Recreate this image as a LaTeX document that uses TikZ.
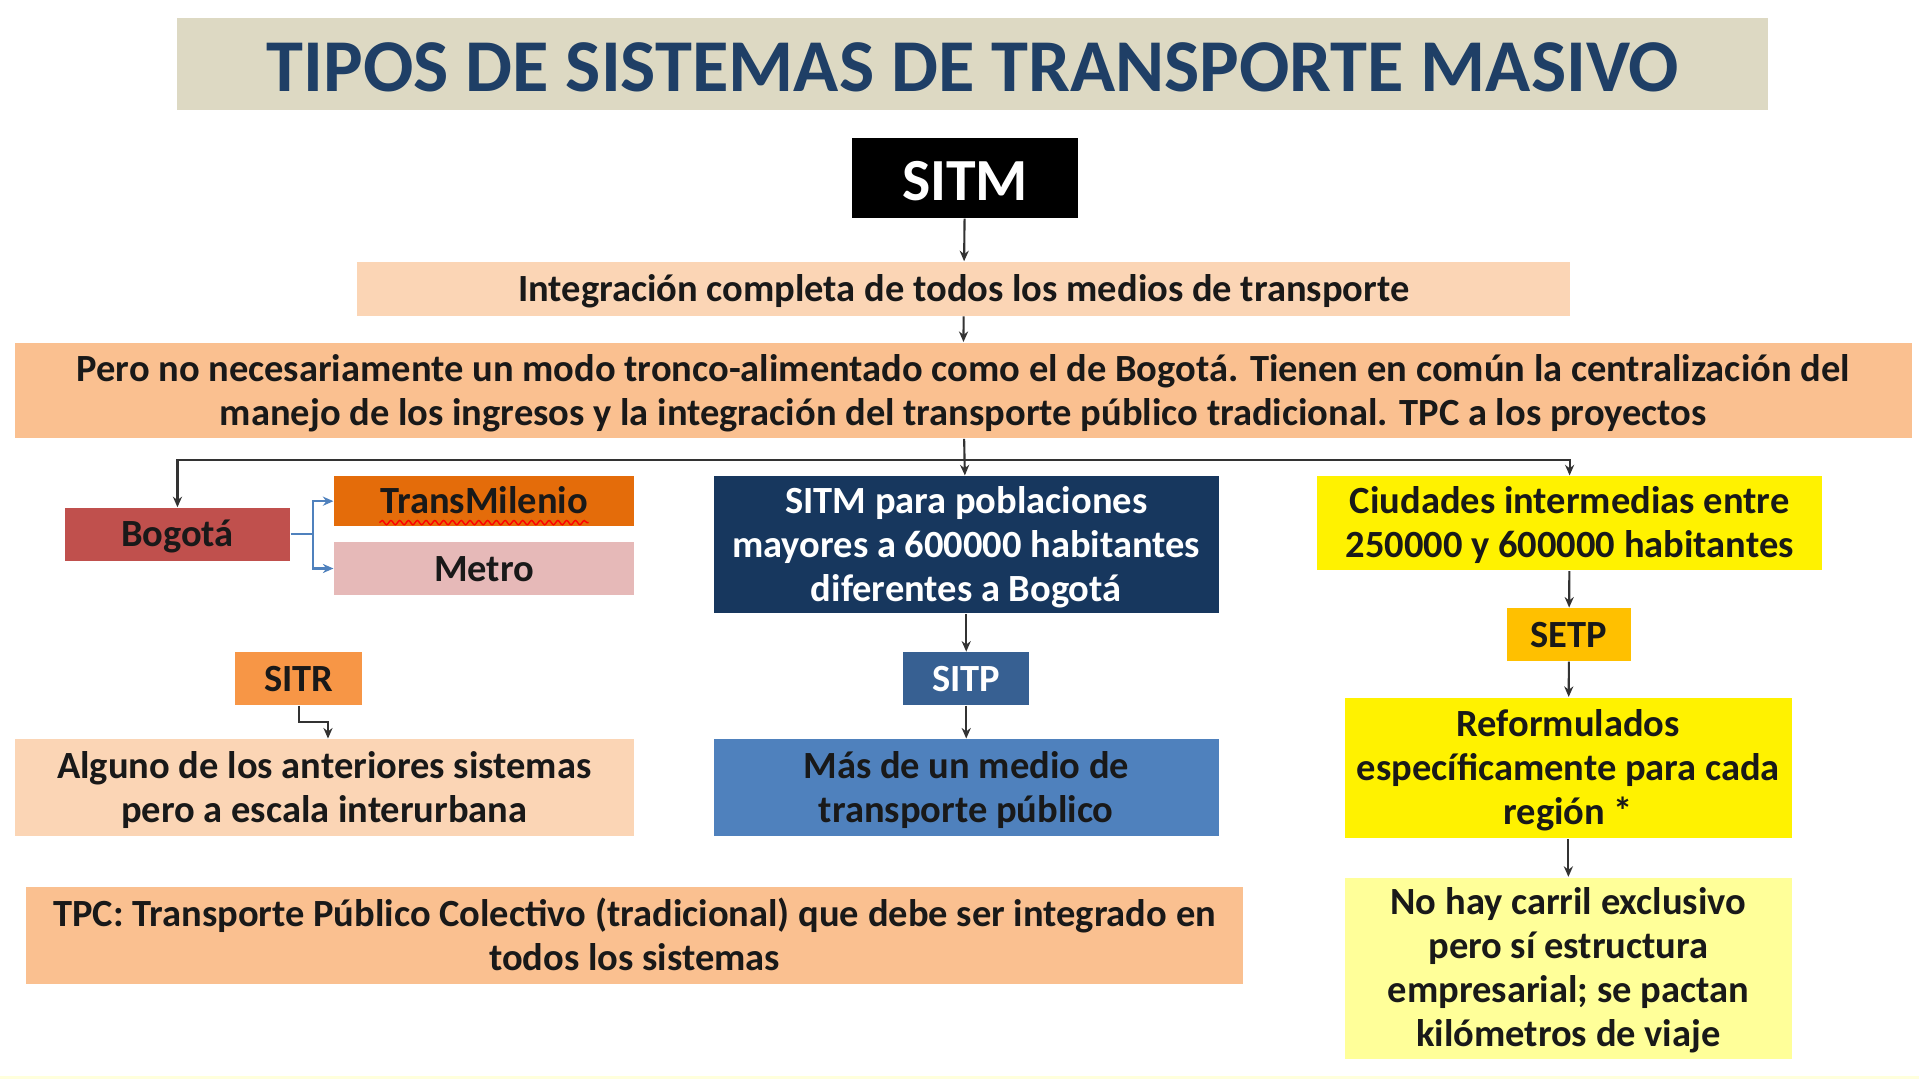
\documentclass[tikz,border=0pt]{standalone}
\usepackage{fontspec}
\setmainfont{Carlito}
\usepackage{tikz}
\usetikzlibrary{arrows.meta,decorations.pathmorphing}
\def\px{0.012239cm}
\definecolor{titlebg}{HTML}{DDD9C3}
\definecolor{titleblue}{HTML}{1F3F66}
\definecolor{peachlt}{HTML}{FBD5B5}
\definecolor{peach}{HTML}{FAC090}
\definecolor{bogred}{HTML}{C0504D}
\definecolor{tmorange}{HTML}{E46C0A}
\definecolor{metropink}{HTML}{E6B9B8}
\definecolor{navy}{HTML}{17375E}
\definecolor{sitrorange}{HTML}{F79646}
\definecolor{sitpblue}{HTML}{376092}
\definecolor{masblue}{HTML}{4F81BD}
\definecolor{setpgold}{HTML}{FFC000}
\definecolor{yellowlt}{HTML}{FFFF99}
\definecolor{stripyellow}{HTML}{FFFFDC}
\def\boxnode{\node[box]}
\def\drawlink{\draw[link]}
\begin{document}
\begin{tikzpicture}[x=\px,y=-\px,
  box/.style={inner sep=0pt,align=center,text=black!90,
    font=\fontsize{10.95}{12.5}\selectfont\bfseries,nlines=1},
  nlines/.style={text height=10.2pt+(#1-1)*12.5pt,text depth=3pt},
  wh/.style 2 args={minimum width=#1*\px,minimum height=#2*\px},
  link/.style={draw=black!80,line width=0.6pt,-{Stealth[length=3pt,width=2.6pt]}},
  bluelink/.style={draw=masblue,line width=0.7pt,-{Stealth[length=3pt,width=2.6pt]}}]
\useasboundingbox[fill=white] (0,0) rectangle (1568,882);
\fill[stripyellow] (0,879) rectangle (1568,882);
\boxnode[fill=titlebg,wh={1300}{75},text=titleblue,font=\fontsize{21.2}{25}\selectfont\bfseries,text height=15.4pt,text depth=0pt] (title) at (795,52.5) {TIPOS DE SISTEMAS DE TRANSPORTE MASIVO};
\boxnode[fill=black,wh={185}{65},text=white,font=\fontsize{17}{20}\selectfont\bfseries,text height=13pt,text depth=0pt] (sitm) at (788.5,145.5) {SITM};
\boxnode[fill=peachlt,wh={991}{44}] (integ) at (787.5,236) {Integración completa de todos los medios de transporte};
\boxnode[fill=peach,wh={1550}{78},nlines=2] (pero) at (787,319) {Pero no necesariamente un modo tronco-alimentado como el de Bogotá. Tienen en común la centralización del\\manejo de los ingresos y la integración del transporte público tradicional. TPC a los proyectos};
\boxnode[fill=bogred,wh={184}{43}] (bogota) at (145,436.5) {Bogotá};
\boxnode[fill=tmorange,wh={245}{41}] (transm) at (395.5,409.5) {TransMilenio};
\boxnode[fill=metropink,wh={245}{43}] (metro) at (395.5,464.5) {Metro};
\boxnode[fill=navy,wh={413}{112},text=white,nlines=3] (sitmpob) at (789.5,445) {SITM para poblaciones\\mayores a 600000 habitantes\\diferentes a Bogotá};
\boxnode[fill=yellow,wh={413}{77},nlines=2] (ciudades) at (1282.5,427.5) {Ciudades intermedias entre\\250000 y 600000 habitantes};
\boxnode[fill=sitrorange,wh={104}{43}] (sitr) at (244,554.5) {SITR};
\boxnode[fill=peachlt,wh={506}{79},nlines=2] (alguno) at (265,643.5) {Alguno de los anteriores sistemas\\pero a escala interurbana};
\boxnode[fill=sitpblue,wh={103}{43},text=white] (sitp) at (789.5,554.5) {SITP};
\boxnode[fill=masblue,wh={413}{79},nlines=2] (mas) at (789.5,643.5) {Más de un medio de\\transporte público};
\boxnode[fill=setpgold,wh={102}{43}] (setp) at (1282,518.5) {SETP};
\boxnode[fill=yellow,wh={365}{115},nlines=3] (reform) at (1281.5,627.5) {Reformulados\\específicamente para cada\\región *};
\boxnode[fill=yellowlt,wh={365}{148},nlines=4] (nohay) at (1281.5,791) {No hay carril exclusivo\\pero sí estructura\\empresarial; se pactan\\kilómetros de viaje};
\boxnode[fill=peach,wh={995}{79},nlines=2] (tpc) at (518.5,764.5) {TPC: Transporte Público Colectivo (tradicional) que debe ser integrado en\\todos los sistemas};
\draw[red,line width=0.4pt,decorate,decoration={snake,amplitude=0.6pt,segment length=2.5pt}] (310,427) -- (481,427);
\coordinate (split) at (789,376);
\coordinate (sitrbend) at (268,590);
\drawlink (sitm) -- (integ);
\drawlink (integ) -- (pero);
\drawlink (pero) -- (sitmpob);
\drawlink (split) -| (bogota);
\drawlink (split) -| (ciudades);
\draw[bluelink] (bogota.east) -- ++(18,0) |- (transm.west);
\draw[bluelink] (bogota.east) -- ++(18,0) |- (metro.west);
\drawlink (sitmpob) -- (sitp);
\drawlink (sitp) -- (mas);
\drawlink (ciudades) -- (setp);
\drawlink (setp) -- (reform);
\drawlink (reform) -- (nohay);
\drawlink (sitr.south) |- (sitrbend) -- (sitrbend |- alguno.north);
\end{tikzpicture}
\end{document}
